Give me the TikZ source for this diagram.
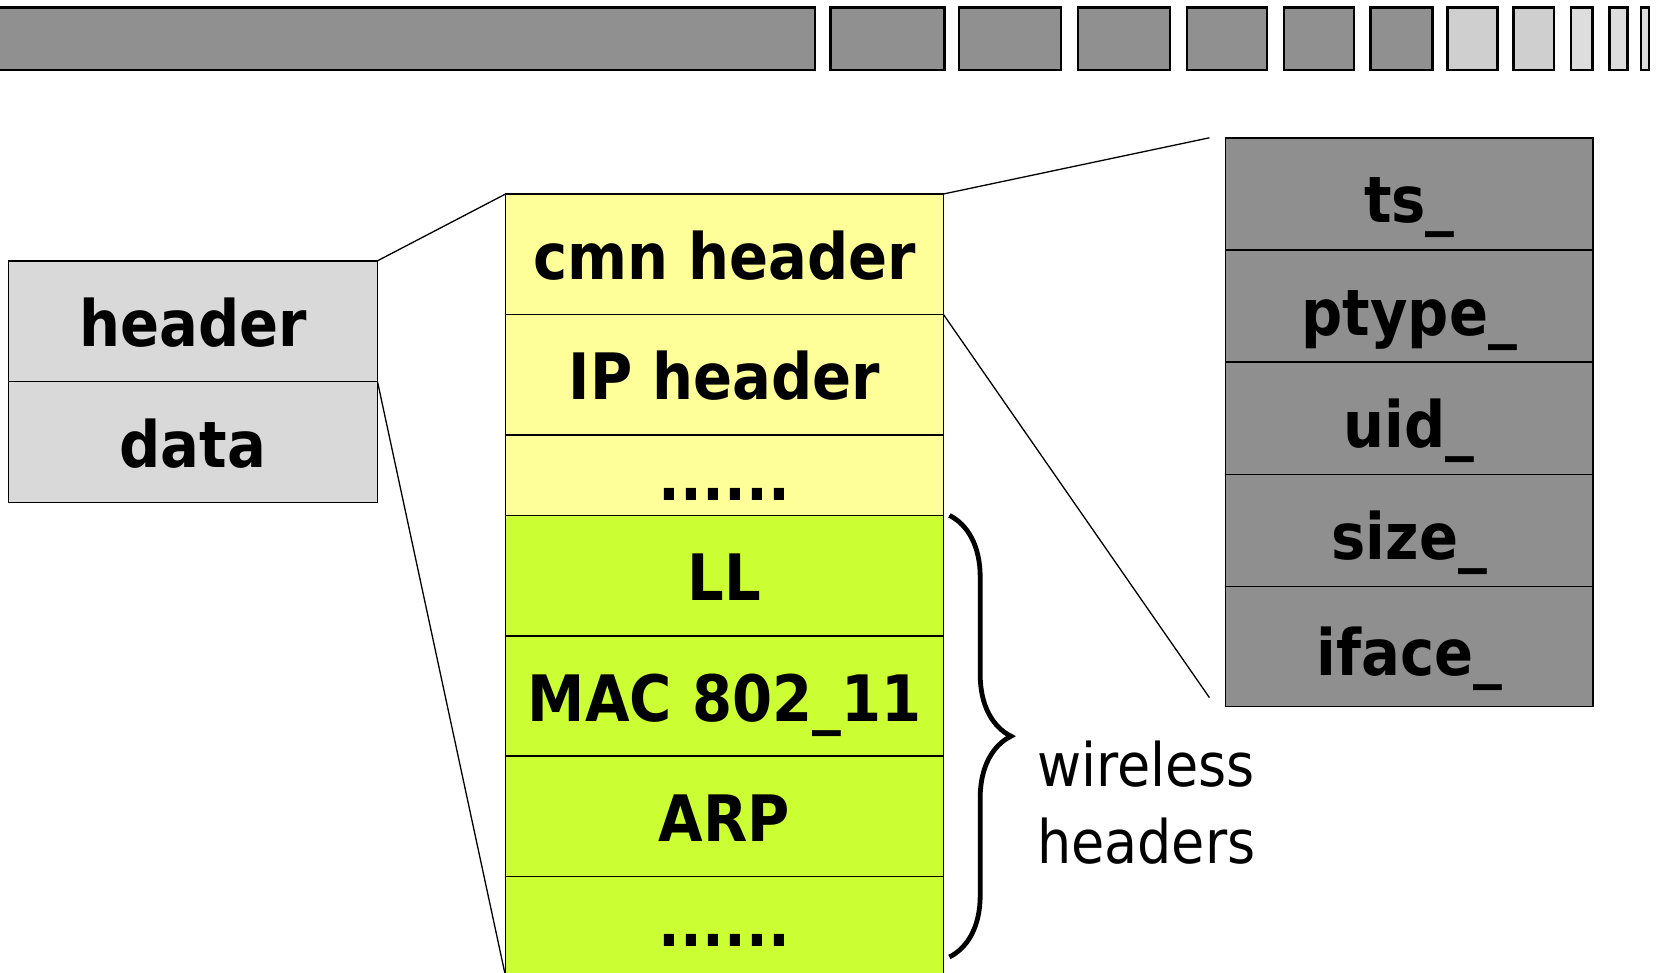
\documentclass[tikz,border=0pt]{standalone}
\usepackage{fontspec}
\setmainfont{DejaVu Sans}[FakeStretch=0.9]
\usetikzlibrary{positioning, decorations.pathreplacing}

\definecolor{bargray}{HTML}{909090}
\definecolor{barlight}{HTML}{CFCFCF}
\definecolor{barpale}{HTML}{DDDDDD}
\definecolor{pktgray}{HTML}{D9D9D9}
\definecolor{fldgray}{HTML}{8F8F8F}
\definecolor{hdryellow}{HTML}{FFFF99}
\definecolor{hdrgreen}{HTML}{CCFF33}

\begin{document}
\begin{tikzpicture}[x=1pt, y=-1pt,
  every node/.style={outer sep=0pt, inner sep=0pt},
  cell/.style={draw, line width=0.75pt, font=\bfseries\fontsize{32}{32}\selectfont, text height=25pt, text depth=0pt},
  pkt/.style={cell, fill=pktgray, minimum width=184.5pt, minimum height=60.4pt},
  hdr/.style={cell, minimum width=218.9pt, minimum height=60.2pt},
  fld/.style={cell, fill=fldgray, minimum width=183.9pt, minimum height=56.1pt, text height=29pt},
  seg/.style={draw, line width=1.3pt},
  link/.style={line width=0.65pt},
  brc/.style={decorate, decoration={brace, amplitude=30.8pt}, line width=2.4pt}]
\useasboundingbox (0,0) rectangle (831,486.5);
% Packet list
\foreach \a/\b in {-5/407.5, 415.3/472.3, 479.5/530.5, 539/585, 593.5/633.5, 642/677, 685.3/716.2}
  \draw[seg, fill=bargray] (\a,3.65) rectangle (\b,35);
\foreach \a/\b in {723.8/748.8, 756.8/777}
  \draw[seg, fill=barlight] (\a,3.65) rectangle (\b,35);
\foreach \a/\b in {785.5/796.2, 804.8/813.8, 820.5/824.5}
  \draw[seg, fill=barpale] (\a,3.65) rectangle (\b,35);
% Packet
\node[pkt, anchor=north west] (header) at (4.25,130.4) {header};
\node[pkt, below=0pt of header] (data) {data};
% Headers
\node[hdr, fill=hdryellow, anchor=north west] (cmn) at (252.8,97) {cmn header};
\node[hdr, fill=hdryellow, below=0pt of cmn] (ip) {IP header};
\node[hdr, fill=hdryellow, minimum height=40.3pt, below=0pt of ip] (more) {......};
\node[hdr, fill=hdrgreen, below=0pt of more] (ll) {LL};
\node[hdr, fill=hdrgreen, below=0pt of ll] (mac) {MAC 802\_11};
\node[hdr, fill=hdrgreen, below=0pt of mac] (arp) {ARP};
\node[hdr, fill=hdrgreen, minimum height=50pt, text height=20pt, below=0pt of arp] (rest) {......};
% Common header fields
\node[fld, anchor=north west] (ts) at (612.7,68.9) {ts\_};
\node[fld, below=0pt of ts] (ptype) {ptype\_};
\node[fld, below=0pt of ptype] (uid) {uid\_};
\node[fld, below=0pt of uid] (size) {size\_};
\node[fld, minimum height=59.9pt, below=0pt of size] (iface) {iface\_};
% Zoom lines
\coordinate[left=8pt of ts.north west] (tsend);
\coordinate[above left=4.4pt and 8pt of iface.south west] (ifend);
\draw[link] (header.north east) -- (cmn.north west);
\draw[link] (header.south east) -- (rest.south west);
\draw[link] (cmn.north east) -- (tsend);
\draw[link] (ip.north east) -- (ifend);
% Wireless headers
\coordinate[right=3pt of ll.north east] (btop);
\coordinate[below right=40.2pt and 3pt of rest.north east] (bbot);
\draw[brc] (btop) -- (bbot);
\node[font=\fontsize{30}{38.5}\selectfont, align=left, anchor=north west] (wl) at (518.5,370.7) {wireless\\headers};
\end{tikzpicture}
\end{document}
